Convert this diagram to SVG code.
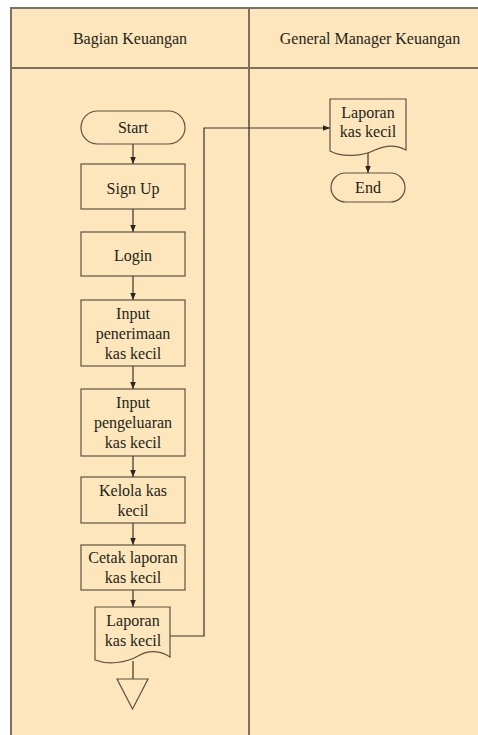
<svg xmlns="http://www.w3.org/2000/svg" width="478" height="735" viewBox="0 0 478 735">
<defs>
<style>
.lane{fill:#fde6bb;stroke:#7d705d;stroke-width:2}
.n{fill:#fde6bb;stroke:#5c5243;stroke-width:1.2}
.t{font-size:16px;fill:#231f1a;text-anchor:middle}
.c{fill:none;stroke:#3a332a;stroke-width:1.2}
</style>
<marker id="ah" viewBox="0 0 10 10" refX="10" refY="5" markerWidth="7" markerHeight="7" markerUnits="userSpaceOnUse" orient="auto">
<path d="M0,1 L10,5 L0,9 z" fill="#2a2520"/>
</marker>
</defs>
<rect x="0" y="0" width="478" height="735" fill="#ffffff"/>
<g font-family="Liberation Serif, DejaVu Serif, serif">
<g id="lanes">
<rect class="lane" x="11" y="8" width="480" height="740"/>
<line class="lane" x1="11" y1="68" x2="491" y2="68"/>
<line class="lane" x1="249" y1="8" x2="249" y2="748"/>
<text class="t" x="130" y="44">Bagian Keuangan</text>
<text class="t" x="370" y="44">General Manager Keuangan</text>
</g>
<g id="connectors">
<line class="c" x1="133" y1="144" x2="133" y2="164" marker-end="url(#ah)"/>
<line class="c" x1="133" y1="209" x2="133" y2="232" marker-end="url(#ah)"/>
<line class="c" x1="133" y1="276" x2="133" y2="300" marker-end="url(#ah)"/>
<line class="c" x1="133" y1="366" x2="133" y2="389" marker-end="url(#ah)"/>
<line class="c" x1="133" y1="456" x2="133" y2="477" marker-end="url(#ah)"/>
<line class="c" x1="133" y1="523" x2="133" y2="545" marker-end="url(#ah)"/>
<line class="c" x1="133" y1="590" x2="133" y2="607" marker-end="url(#ah)"/>
<line class="c" x1="133" y1="661" x2="133" y2="690" marker-end="url(#ah)"/>
<polyline class="c" points="170,636 204,636 204,128 330,128" marker-end="url(#ah)"/>
<line class="c" x1="368" y1="150" x2="368" y2="173" marker-end="url(#ah)"/>
</g>
<g id="start">
<rect class="n" x="81" y="111" width="104" height="33" rx="16.5"/>
<text class="t" x="133" y="132.5">Start</text>
</g>
<g id="signup">
<rect class="n" x="81" y="164" width="104" height="45"/>
<text class="t" x="133" y="193.5">Sign Up</text>
</g>
<g id="login">
<rect class="n" x="81" y="232" width="104" height="44"/>
<text class="t" x="133" y="260.5">Login</text>
</g>
<g id="penerimaan">
<rect class="n" x="81" y="300" width="104" height="66"/>
<text class="t" x="133" y="319">Input</text>
<text class="t" x="133" y="339">penerimaan</text>
<text class="t" x="133" y="359">kas kecil</text>
</g>
<g id="pengeluaran">
<rect class="n" x="81" y="389" width="104" height="67"/>
<text class="t" x="133" y="408">Input</text>
<text class="t" x="133" y="428">pengeluaran</text>
<text class="t" x="133" y="448">kas kecil</text>
</g>
<g id="kelola">
<rect class="n" x="81" y="477" width="104" height="46"/>
<text class="t" x="133" y="496">Kelola kas</text>
<text class="t" x="133" y="516">kecil</text>
</g>
<g id="cetak">
<rect class="n" x="81" y="545" width="104" height="45"/>
<text class="t" x="133" y="563">Cetak laporan</text>
<text class="t" x="133" y="583">kas kecil</text>
</g>
<g id="laporan1">
<path class="n" d="M95,607 H170 V657 C160,650 148,650 138,656 C126,663 108,665 95,660 Z"/>
<text class="t" x="133" y="626">Laporan</text>
<text class="t" x="133" y="646">kas kecil</text>
</g>
<g id="offpage">
<path class="n" d="M117,679 H148 L132.5,709 Z"/>
</g>
<g id="laporan2">
<path class="n" d="M330,99 H406 V150 C397,145 386,145 375,150 C363,156 343,158 330,151 Z"/>
<text class="t" x="368" y="118">Laporan</text>
<text class="t" x="368" y="137">kas kecil</text>
</g>
<g id="end">
<rect class="n" x="331" y="173" width="74" height="29" rx="14.5"/>
<text class="t" x="368" y="192.5">End</text>
</g>
</g>
</svg>
